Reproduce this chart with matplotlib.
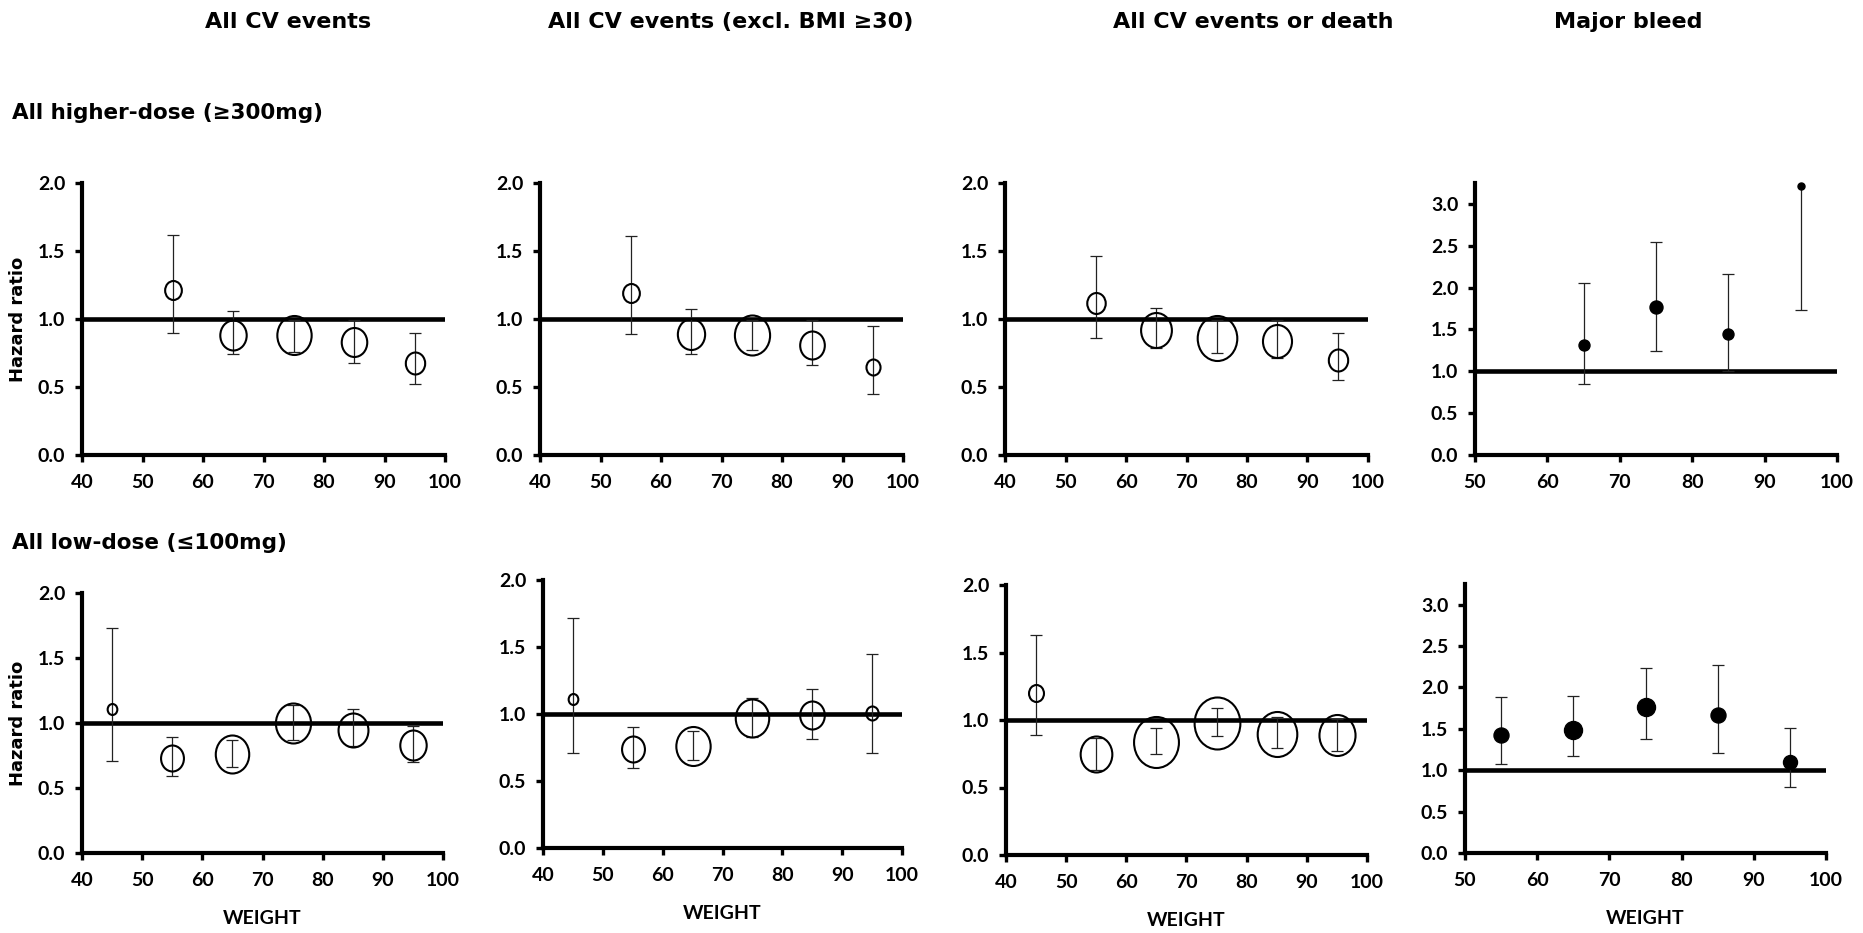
import matplotlib
matplotlib.use('Agg')
import matplotlib.pyplot as plt
from matplotlib.path import Path
from matplotlib.transforms import Affine2D

####################################################################################################

col_titles = ['All CV events', 'All CV events (excl. BMI \u226530)',
              'All CV events or death', 'Major bleed']
row_titles = ['All higher-dose (\u2265300mg)', 'All low-dose (\u2264100mg)']

# weight bands (kg, band mid-points)
wt_hi = [55, 65, 75, 85, 95]
wt_hi_bleed = [65, 75, 85, 95]
wt_lo = [45, 55, 65, 75, 85, 95]
wt_lo_bleed = [55, 65, 75, 85, 95]

# higher-dose aspirin: hazard ratio, lower / upper 95% CI, bubble size (px)
hr_hi_cv = [1.21, 0.88, 0.88, 0.83, 0.68]
lo_hi_cv = [0.90, 0.74, 0.76, 0.68, 0.52]
up_hi_cv = [1.62, 1.06, 0.99, 0.99, 0.90]
sz_hi_cv = [19, 30, 39, 29, 22]

hr_hi_bmi = [1.19, 0.89, 0.88, 0.81, 0.65]
lo_hi_bmi = [0.89, 0.74, 0.77, 0.66, 0.45]
up_hi_bmi = [1.61, 1.07, 0.99, 0.99, 0.95]
sz_hi_bmi = [19, 31, 40, 28, 16]

hr_hi_death = [1.12, 0.92, 0.86, 0.84, 0.70]
lo_hi_death = [0.86, 0.79, 0.75, 0.71, 0.55]
up_hi_death = [1.46, 1.08, 0.99, 0.99, 0.90]
sz_hi_death = [21, 35, 45, 33, 22]

hr_hi_bleed = [1.31, 1.77, 1.45, 3.22]
lo_hi_bleed = [0.85, 1.24, 1.00, 1.73]
up_hi_bleed = [2.06, 2.55, 2.16, 6.00]
sz_hi_bleed = [11, 13, 11, 7]

# low-dose aspirin
hr_lo_cv = [1.11, 0.73, 0.76, 1.00, 0.95, 0.83]
lo_lo_cv = [0.71, 0.59, 0.66, 0.87, 0.82, 0.70]
up_lo_cv = [1.73, 0.89, 0.87, 1.14, 1.11, 0.98]
sz_lo_cv = [11, 26, 38, 40, 34, 30]

hr_lo_bmi = [1.11, 0.74, 0.76, 0.97, 0.99, 1.01]
lo_lo_bmi = [0.71, 0.60, 0.66, 0.83, 0.81, 0.71]
up_lo_bmi = [1.72, 0.90, 0.87, 1.12, 1.19, 1.45]
sz_lo_bmi = [11, 26, 39, 38, 28, 14]

hr_lo_death = [1.20, 0.75, 0.84, 0.98, 0.90, 0.89]
lo_lo_death = [0.89, 0.63, 0.75, 0.88, 0.79, 0.77]
up_lo_death = [1.63, 0.87, 0.94, 1.09, 1.02, 1.01]
sz_lo_death = [17, 36, 51, 52, 45, 41]

hr_lo_bleed = [1.42, 1.49, 1.76, 1.67, 1.10]
lo_lo_bleed = [1.08, 1.17, 1.38, 1.21, 0.80]
up_lo_bleed = [1.88, 1.90, 2.24, 2.27, 1.51]
sz_lo_bleed = [15, 18, 18, 15, 14]

####################################################################################################

W, H = 1863, 933
fig = plt.figure(figsize=(W / 100, H / 100), dpi=100)

head_font = dict(family='DejaVu Sans', weight='bold')
tick_font = 'Lato'

# open bubbles are drawn slightly taller than wide
ellipse = Path.unit_circle().transformed(Affine2D().scale(0.88, 1.0))

panels = [
    # (box px: left, top, right, bottom), x, hr, lo, up, size, filled
    ((82, 183, 445, 455), wt_hi, hr_hi_cv, lo_hi_cv, up_hi_cv, sz_hi_cv, False),
    ((540, 183, 903, 455), wt_hi, hr_hi_bmi, lo_hi_bmi, up_hi_bmi, sz_hi_bmi, False),
    ((1005, 183, 1368, 455), wt_hi, hr_hi_death, lo_hi_death, up_hi_death, sz_hi_death, False),
    ((1475, 183, 1837, 455), wt_hi_bleed, hr_hi_bleed, lo_hi_bleed, up_hi_bleed, sz_hi_bleed, True),
    ((82, 593, 443, 853), wt_lo, hr_lo_cv, lo_lo_cv, up_lo_cv, sz_lo_cv, False),
    ((543, 580, 902, 848), wt_lo, hr_lo_bmi, lo_lo_bmi, up_lo_bmi, sz_lo_bmi, False),
    ((1006, 585, 1367, 855), wt_lo, hr_lo_death, lo_lo_death, up_lo_death, sz_lo_death, False),
    ((1465, 584, 1826, 853), wt_lo_bleed, hr_lo_bleed, lo_lo_bleed, up_lo_bleed, sz_lo_bleed, True),
]

for i, (box, x, hr, lo, up, sz, filled) in enumerate(panels):
    l, t, r, b = box
    ax = fig.add_axes([l / W, 1 - b / H, (r - l) / W, (b - t) / H])

    yerr = [[h - a for h, a in zip(hr, lo)], [u - h for h, u in zip(hr, up)]]
    ax.errorbar(x, hr, yerr=yerr, fmt='none', ecolor='#222222',
                elinewidth=0.9, capsize=4.5, capthick=0.9, zorder=3)
    ax.axhline(1.0, color='black', lw=3.3, zorder=2)

    for xi, hi, si in zip(x, hr, sz):
        if filled:
            ax.plot(xi, hi, marker='o', ms=si * 0.72, mfc='black', mec='black',
                    ls='none', zorder=4, clip_on=False)
        else:
            ax.plot(xi, hi, marker=ellipse, ms=si * 0.72, mfc='none', mec='black',
                    mew=1.5, ls='none', zorder=4)

    if filled:
        ax.set_xlim(50, 100)
        ax.set_xticks(range(50, 101, 10))
        ax.set_ylim(0, 3.25)
        ax.set_yticks([0, 0.5, 1.0, 1.5, 2.0, 2.5, 3.0])
    else:
        ax.set_xlim(40, 100)
        ax.set_xticks(range(40, 101, 10))
        ax.set_ylim(0, 2.0)
        ax.set_yticks([0, 0.5, 1.0, 1.5, 2.0])
    ax.set_yticklabels(['%.1f' % v for v in ax.get_yticks()])

    for side in ('top', 'right'):
        ax.spines[side].set_visible(False)
    for side in ('left', 'bottom'):
        ax.spines[side].set_linewidth(3.0)
    ax.tick_params(axis='both', direction='out', length=5, width=2.4)
    ax.tick_params(axis='x', pad=9)
    ax.tick_params(axis='y', pad=7)
    for lab in ax.get_xticklabels() + ax.get_yticklabels():
        lab.set_fontfamily(tick_font)
        lab.set_fontweight('bold')
        lab.set_fontsize(14)

    if i % 4 == 0:
        ax.text(-0.176, 0.5, 'Hazard ratio', transform=ax.transAxes, rotation=90,
                ha='center', va='center', fontsize=13, **head_font)
    if i >= 4:
        ax.set_xlabel('WEIGHT', fontfamily=tick_font, fontweight='bold',
                      fontsize=14, labelpad=15)

# column and row headings
for xc, title in zip([288, 731, 1253, 1628], col_titles):
    fig.text(xc / W, 1 - 22 / H, title, ha='center', va='center', fontsize=16, **head_font)
fig.text(12 / W, 1 - 113 / H, row_titles[0], ha='left', va='center', fontsize=15.5, **head_font)
fig.text(12 / W, 1 - 543 / H, row_titles[1], ha='left', va='center', fontsize=15.5, **head_font)

fig.savefig('out.png', dpi=100, facecolor='white')
